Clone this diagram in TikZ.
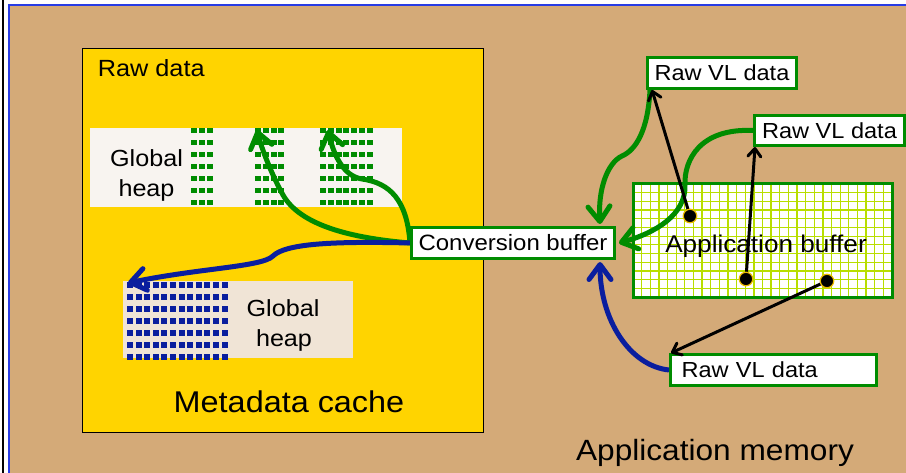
\documentclass[tikz,border=0pt]{standalone}
\usepackage{fontspec}
\setmainfont{Liberation Sans}[FakeStretch=1.08]
\usetikzlibrary{arrows.meta,calc}

\definecolor{memtan}{RGB}{212,170,120}
\definecolor{cacheyellow}{RGB}{255,212,0}
\definecolor{heapwhite}{RGB}{248,244,240}
\definecolor{heapbeige}{RGB}{240,228,214}
\definecolor{dgreen}{RGB}{0,140,0}
\definecolor{gridgreen}{RGB}{184,222,0}
\definecolor{dblue}{RGB}{10,30,158}
\definecolor{frameblue}{RGB}{40,60,230}
\definecolor{dotrim}{RGB}{235,185,0}

\tikzset{
  vlbox/.style={draw=dgreen, line width=3pt, fill=white, inner sep=0pt,
    anchor=north west, font=\fontsize{21.8pt}{24pt}\selectfont},
  flowg/.style={draw=dgreen, line width=5pt,
    -{Straight Barb[length=15pt,width=22pt,round]}},
  flowb/.style={draw=dblue, line width=5pt,
    -{Straight Barb[length=15pt,width=22pt,round]}},
  ptr/.style={draw=black, line width=3pt,
    -{Straight Barb[length=8pt,width=13pt,round]}},
  vldot/.style={circle, fill=black, draw=dotrim, line width=1.2pt,
    minimum size=13.5pt, inner sep=0pt},
  plainbox/.style={anchor=north west, inner sep=0pt},
  heaplbl/.style={anchor=base, inner sep=0pt, font=\fontsize{23.3pt}{28pt}\selectfont},
}

\begin{document}
\begin{tikzpicture}[x=1pt, y=-1pt]
\useasboundingbox (0,0) rectangle (906,473);

% page margin and application memory area
\fill[white] (0,0) rectangle (906,473);
\draw[black, line width=1.5pt] (3,0) -- (3,473);
\fill[memtan] (9,5) rectangle (906,473);
\draw[frameblue, line width=1.2pt] (9,473) -- (9,5) -- (906,5);

% metadata cache
\node[plainbox, draw=black, line width=0.8pt, fill=cacheyellow,
      minimum width=401pt, minimum height=384pt] (cache) at (82,48) {};
\node[anchor=base west, inner sep=0pt, font=\fontsize{23.4pt}{26pt}\selectfont] (rawlbl) at (97.7,76.7) {Raw data};
\node[anchor=base, inner sep=0pt, font=\fontsize{30pt}{34pt}\selectfont] (cachelbl) at (289,413) {Metadata cache};

% first global heap with three green blocks
\node[plainbox, fill=heapwhite, minimum width=312pt, minimum height=79pt] (heap1) at (90,128) {};
\foreach \c in {0,...,2}
  \foreach \r in {0,...,6}
    \fill[dgreen] ({191+7.8*\c},{128.5+11.95*\r}) rectangle ++(6,5);
\foreach \c in {0,...,3}
  \foreach \r in {0,...,6}
    \fill[dgreen] ({255+7.8*\c},{128.5+11.95*\r}) rectangle ++(6,5);
\foreach \c in {0,...,6}
  \foreach \r in {0,...,6}
    \fill[dgreen] ({320+7.8*\c},{128.5+11.95*\r}) rectangle ++(6,5);
\node[heaplbl] (gh1a) at (146.5,167) {Global};
\node[heaplbl] (gh1b) at (146.5,197) {heap};

% second global heap with blue block
\node[plainbox, fill=heapbeige, minimum width=230pt, minimum height=77pt] (heap2) at (123,281) {};
\foreach \c in {0,...,11}
  \foreach \r in {0,...,6}
    \fill[dblue] ({127+8.6*\c},{282.5+11.9*\r}) rectangle ++(6,6);
\node[heaplbl] (gh2a) at (283,317) {Global};
\node[heaplbl] (gh2b) at (284,347) {heap};

% application buffer with its grid
\node[plainbox, fill=white, minimum width=259pt, minimum height=113pt] (appbuf) at (633,184) {};
\foreach \i in {1,...,29}
  \draw[gridgreen, line width=1.3pt] ({633+\i*259/30},184) -- ++(0,113);
\foreach \j in {1,...,12}
  \draw[gridgreen, line width=1.3pt] (633,{184+\j*113/13}) -- ++(259,0);
\draw[dgreen, line width=3pt] (appbuf.north west) rectangle (appbuf.south east);
\node[anchor=base, inner sep=0pt, font=\fontsize{24.2pt}{28pt}\selectfont] (appbuflbl) at (766,253) {Application buffer};

% boxes
\node[vlbox, minimum width=203pt, minimum height=31pt, font=\fontsize{22.2pt}{25pt}\selectfont]
  (conv) at (410,226) {Conversion buffer};
\node[vlbox, minimum width=149pt, minimum height=31pt] (vl1) at (646,56) {Raw VL data};
\node[vlbox, minimum width=150pt, minimum height=30pt] (vl2) at (753,114) {Raw VL data};
\node[vlbox, minimum width=206pt, minimum height=31pt, text width=184pt, align=left]
  (vl3) at (669,353) {Raw VL data};

% conversion flows
\draw[flowg] (conv.west) .. controls (407,200) and (390,183) .. (362,179)
  .. controls (342,176) and (333,152) .. ($(heap1.north west)+(238,2)$);
\draw[flowg] (conv.west) .. controls (350,238) and (300,225) .. (283,195)
  .. controls (272,175) and (262,150) .. ($(heap1.north west)+(167,2)$);
\draw[flowb] (conv.west) .. controls (330,241) and (285,244) .. (273,256)
  .. controls (262,267) and (200,268) .. ($(heap2.north west)+(5,2)$);
\draw[flowg] ($(vl1.south west)+(4,0)$) .. controls (648,130) and (636,150) .. (622,156)
  .. controls (607,163) and (598,190) .. ($(conv.north)+(87,-2)$);
\draw[flowg] (vl2.west) .. controls (700,128) and (684,160) .. (685,185)
  .. controls (686,215) and (655,233) .. ($(conv.east)+(3,0)$);
\draw[flowb] (vl3.west) .. controls (630,366) and (600,320) .. ($(conv.south)+(87,2)$);

% conversion buffer drawn again over the ends of the flows
\node[vlbox, minimum width=203pt, minimum height=31pt, font=\fontsize{22.2pt}{25pt}\selectfont]
  at (410,226) {Conversion buffer};

% pointers from the application buffer to raw VL data
\coordinate (p1) at (690,216);
\coordinate (p2) at (746,279);
\coordinate (p3) at (827,281);
\draw[ptr] (p1) -- ($(vl1.south west)+(6,0)$);
\draw[ptr] (p2) -- ($(vl2.south west)+(2,0)$);
\draw[ptr] (p3) -- ($(vl3.north west)+(2,0)$);
\node[vldot] (d1) at (p1) {};
\node[vldot] (d2) at (p2) {};
\node[vldot] (d3) at (p3) {};

\node[anchor=base, inner sep=0pt, font=\fontsize{29.3pt}{33pt}\selectfont] (memlbl) at (715,460) {Application memory};
\end{tikzpicture}
\end{document}
